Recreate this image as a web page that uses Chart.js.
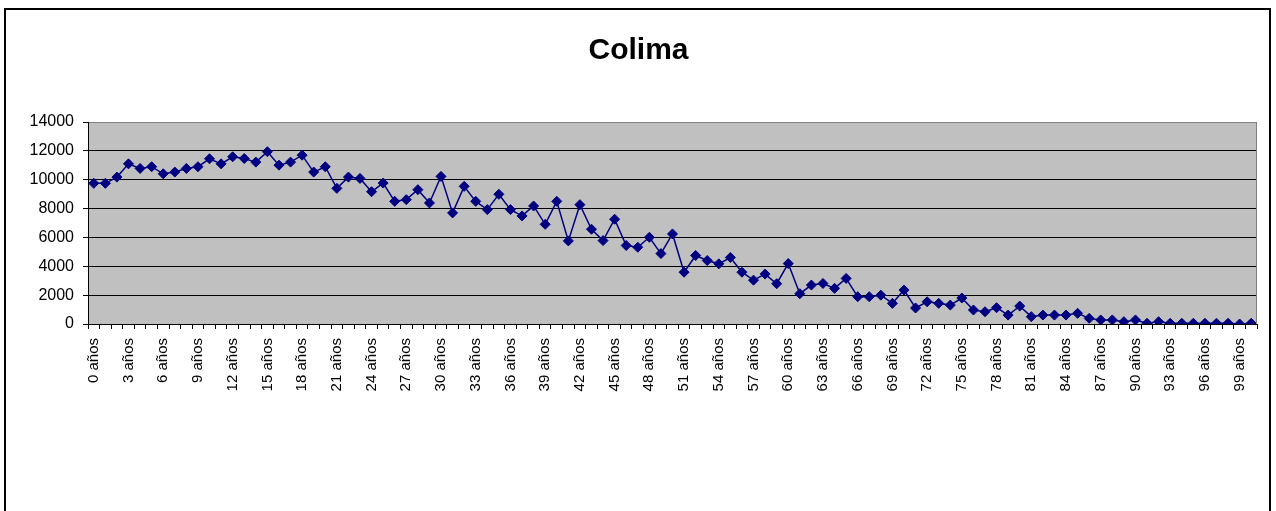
<!DOCTYPE html>
<html>
<head>
<meta charset="utf-8">
<script src="https://cdn.jsdelivr.net/npm/chart.js@4.4.1/dist/chart.umd.min.js"></script>
<style>
  html, body { margin: 0; padding: 0; background: #fff; }
  #wrap { width: 1276px; height: 511px; position: relative; }
</style>
</head>
<body>
<div id="wrap"><canvas id="colimaChart"></canvas></div>
<script>
const chartTitle = "Colima";

const edades = [
    "0 años", "1 años", "2 años", "3 años", "4 años", "5 años", "6 años", "7 años", "8 años", "9 años",
    "10 años", "11 años", "12 años", "13 años", "14 años", "15 años", "16 años", "17 años", "18 años", "19 años",
    "20 años", "21 años", "22 años", "23 años", "24 años", "25 años", "26 años", "27 años", "28 años", "29 años",
    "30 años", "31 años", "32 años", "33 años", "34 años", "35 años", "36 años", "37 años", "38 años", "39 años",
    "40 años", "41 años", "42 años", "43 años", "44 años", "45 años", "46 años", "47 años", "48 años", "49 años",
    "50 años", "51 años", "52 años", "53 años", "54 años", "55 años", "56 años", "57 años", "58 años", "59 años",
    "60 años", "61 años", "62 años", "63 años", "64 años", "65 años", "66 años", "67 años", "68 años", "69 años",
    "70 años", "71 años", "72 años", "73 años", "74 años", "75 años", "76 años", "77 años", "78 años", "79 años",
    "80 años", "81 años", "82 años", "83 años", "84 años", "85 años", "86 años", "87 años", "88 años", "89 años",
    "90 años", "91 años", "92 años", "93 años", "94 años", "95 años", "96 años", "97 años", "98 años", "99 años",
    "100 años"
];

const poblacion = [
    9750, 9750, 10180, 11100, 10780, 10900, 10410, 10530, 10780, 10900,
    11450, 11100, 11590, 11470, 11220, 11940, 11010, 11220, 11700, 10530,
    10900, 9400, 10180, 10090, 9170, 9770, 8500, 8620, 9310, 8390,
    10230, 7700, 9540, 8500, 7930, 8990, 7930, 7490, 8180, 6910,
    8500, 5760, 8270, 6570, 5780, 7260, 5440, 5320, 6010, 4880,
    6240, 3590, 4750, 4400, 4170, 4610, 3590, 3040, 3460, 2790,
    4190, 2100, 2700, 2810, 2470, 3160, 1890, 1890, 2000, 1430,
    2350, 1110, 1540, 1430, 1310, 1800, 970, 850, 1130, 620,
    1240, 510, 620, 620, 620, 740, 390, 280, 280, 160,
    280, 50, 160, 50, 50, 50, 50, 50, 50, 0,
    50
];

const yTicks = [0, 2000, 4000, 6000, 8000, 10000, 12000, 14000];

// gray plot area + outer frame, like the spreadsheet chart
const frameAndPlot = {
    id: "frameAndPlot",
    beforeDraw(chart) {
        const { ctx, chartArea: a } = chart;
        ctx.save();
        ctx.fillStyle = "#fff";
        ctx.fillRect(0, 0, chart.width, chart.height);
        ctx.fillStyle = "#c0c0c0";
        ctx.fillRect(a.left, a.top, a.right - a.left, a.bottom - a.top);
        ctx.restore();
    },
    afterDraw(chart) {
        const { ctx, chartArea: a } = chart;
        ctx.save();
        ctx.strokeStyle = "#808080";
        ctx.lineWidth = 1;
        ctx.beginPath();
        ctx.moveTo(a.right - 0.5, a.top);
        ctx.lineTo(a.right - 0.5, a.bottom);
        ctx.stroke();
        ctx.strokeStyle = "#000";
        ctx.lineWidth = 2;
        ctx.strokeRect(5, 9, 1265, 600);
        ctx.restore();
    }
};

window.onload = () => {
    const ctx = document.getElementById("colimaChart").getContext("2d");
    new Chart(ctx, {
        type: "line",
        data: {
            labels: edades,
            datasets: [{
                label: chartTitle,
                data: poblacion,
                borderColor: "#000080",
                backgroundColor: "#000080",
                borderWidth: 1.5,
                pointStyle: "rectRot",
                pointRadius: 5,
                pointBorderWidth: 1,
                fill: false,
                tension: 0
            }]
        },
        options: {
            responsive: true,
            maintainAspectRatio: false,
            animation: false,
            layout: { padding: { left: 20, right: 19, top: 0, bottom: 67 } },
            plugins: {
                legend: { display: false },
                tooltip: { enabled: false },
                title: {
                    display: true,
                    text: chartTitle,
                    color: "#000",
                    font: { family: "Arial, 'Liberation Sans'", size: 30, weight: "bold" },
                    padding: { top: 33, bottom: 53 }
                }
            },
            scales: {
                x: {
                    offset: true,
                    grid: {
                        offset: true,
                        drawOnChartArea: false,
                        drawTicks: true,
                        tickLength: 5,
                        color: "#000"
                    },
                    border: { color: "#000", width: 1 },
                    ticks: {
                        autoSkip: false,
                        minRotation: 90,
                        maxRotation: 90,
                        padding: 9,
                        color: "#000",
                        font: { family: "Arial, 'Liberation Sans'", size: 15 },
                        callback: (v, i) => (i % 3 === 0 ? edades[i] : "")
                    },
                    afterFit: s => {
                        s.height = 120;
                        s.paddingLeft = 0;
                        s.paddingRight = 0;
                    }
                },
                y: {
                    min: 0,
                    max: 14000,
                    grid: {
                        color: c => (c.tick && c.tick.value === 14000 ? "#808080" : "#000"),
                        lineWidth: 1,
                        tickLength: 5,
                        tickColor: "#000"
                    },
                    border: { color: "#000", width: 1 },
                    afterBuildTicks: s => { s.ticks = yTicks.map(v => ({ value: v })); },
                    ticks: {
                        padding: 9,
                        color: "#000",
                        font: { family: "Arial, 'Liberation Sans'", size: 16 },
                        callback: v => String(v)
                    },
                    afterFit: s => { s.width = 68; }
                }
            }
        },
        plugins: [frameAndPlot]
    });
};
</script>
</body>
</html>
